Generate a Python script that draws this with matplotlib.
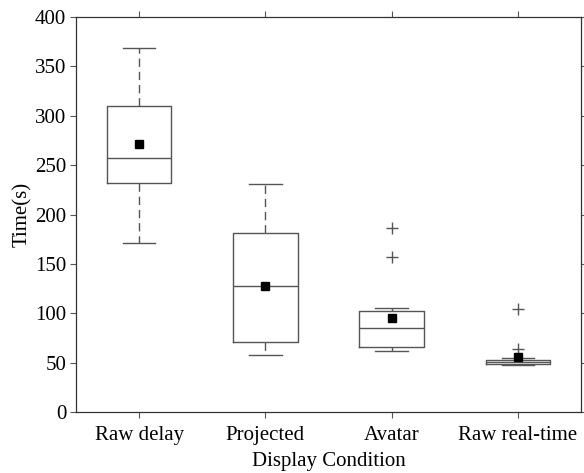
"""Box plot of task completion time per display condition."""

import matplotlib

matplotlib.use("Agg")
import matplotlib.pyplot as plt

CONDITIONS = ["Raw delay", "Projected", "Avatar", "Raw real-time"]
WHISKER_LOW = [171, 58, 62, 48]
Q1 = [232, 71, 66, 48.5]
MEDIAN = [257.5, 128, 85, 51]
Q3 = [310, 181, 102, 52.5]
WHISKER_HIGH = [369, 231, 105, 54.5]
MEAN = [271, 128, 95, 56]
OUTLIERS = [[], [], [186, 157], [104, 64]]

plt.rcParams["font.family"] = ["Liberation Serif", "DejaVu Serif"]
GREY = "#555555"

fig = plt.figure(figsize=(5.84, 4.73), dpi=100)
ax = fig.add_axes([0.130, 0.129, 0.865, 0.835])

stats = [
    dict(whislo=lo, q1=a, med=m, q3=b, whishi=hi, mean=mu, fliers=fl, label=lab)
    for lo, a, m, b, hi, mu, fl, lab in zip(
        WHISKER_LOW, Q1, MEDIAN, Q3, WHISKER_HIGH, MEAN, OUTLIERS, CONDITIONS
    )
]
ax.bxp(
    stats,
    widths=0.51,
    showmeans=True,
    boxprops=dict(color=GREY, linewidth=1.0),
    medianprops=dict(color=GREY, linewidth=1.0),
    whiskerprops=dict(color=GREY, linewidth=1.0, linestyle=(0, (6, 3.5))),
    capprops=dict(color=GREY, linewidth=1.0),
    capwidths=0.26,
    meanprops=dict(marker="s", markerfacecolor="black", markeredgecolor="black", markersize=6),
    flierprops=dict(marker="+", markeredgecolor=GREY, markersize=9, markeredgewidth=1.0),
)

ax.set_xlim(0.5, 4.5)
ax.set_ylim(0, 400)
ax.set_yticks(range(0, 401, 50))
ax.set_xlabel("Display Condition", fontsize=15, labelpad=5)
ax.set_ylabel("Time(s)", fontsize=15, labelpad=2)
ax.tick_params(axis="y", pad=3)
ax.tick_params(axis="x", pad=6)
ax.tick_params(direction="out", length=4, width=0.8, color=GREY, labelsize=15,
               top=True, right=True)
for spine in ax.spines.values():
    spine.set_color("#333333")
    spine.set_linewidth(0.9)

fig.savefig("out.png", dpi=100)
